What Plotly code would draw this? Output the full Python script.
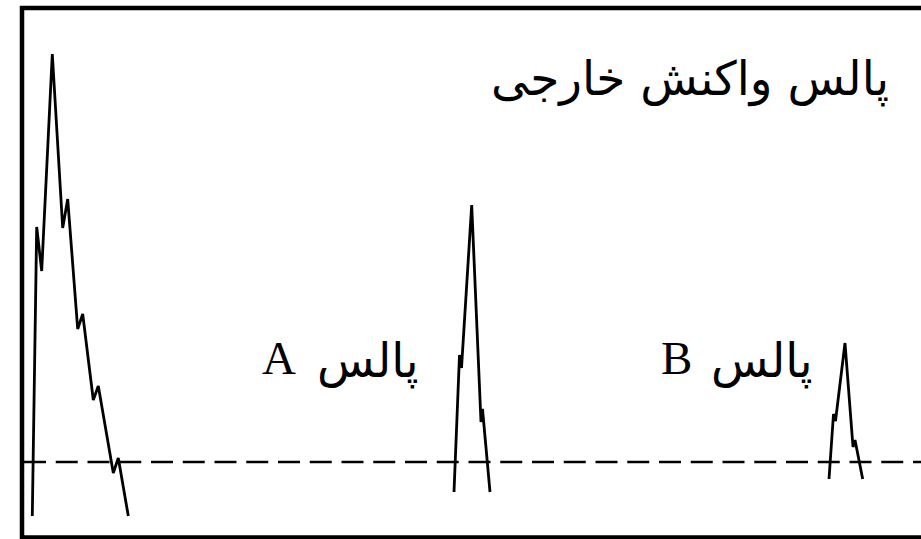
import plotly.graph_objects as go

# Echo trace: time (µs) versus amplitude (arbitrary units), baseline at 0
ext_t = [3.23, 3.67, 4.17, 5.23, 6.27, 6.77, 7.77, 8.27, 9.33, 9.83, 11.33, 11.83, 12.83]
ext_a = [-5.4, 23.5, 19.1, 40.8, 23.4, 26.3, 13.3, 14.8, 6.2, 7.6, -1.1, 0.4, -5.4]

a_t = [45.4, 45.95, 46.15, 47.17, 48.1, 48.25, 49.0]
a_a = [-3.0, 10.7, 9.4, 25.7, 4.0, 5.3, -3.0]

b_t = [82.9, 83.35, 83.55, 84.5, 85.3, 85.5, 86.27]
b_a = [-1.7, 4.8, 4.1, 11.9, 1.5, 2.2, -1.7]

base_t = [2.4, 92.1]
base_a = [0, 0]

title_text = "پالس واکنش خارجی"
pulse_word = "پالس"
label_a = "A"
label_b = "B"

SANS = "DejaVu Sans"
SERIF = "Liberation Serif"

fig = go.Figure()

fig.add_trace(go.Scatter(x=base_t, y=base_a, mode="lines",
                         line=dict(color="black", width=2.7, dash="22px,9.75px"),
                         hoverinfo="skip"))
for t, a in [(ext_t, ext_a), (a_t, a_a), (b_t, b_a)]:
    fig.add_trace(go.Scatter(x=t, y=a, mode="lines",
                             line=dict(color="black", width=2.8),
                             hoverinfo="skip"))

# Frame around the trace
fig.add_shape(type="rect", xref="x", yref="y",
              x0=2.2, x1=93.5, y0=-7.55, y1=45.4,
              line=dict(color="black", width=4.5))

annotations = [
    dict(text=title_text, x=89.1, y=38.3, xanchor="right", yanchor="middle",
         font=dict(family=SANS, size=47, color="black")),
    dict(text=label_a, x=29.8, y=10.4, xanchor="right", yanchor="middle",
         font=dict(family=SERIF, size=47, color="black")),
    dict(text=pulse_word, x=42.1, y=10.1, xanchor="right", yanchor="middle",
         font=dict(family=SANS, size=47, color="black")),
    dict(text=label_b, x=69.4, y=10.4, xanchor="right", yanchor="middle",
         font=dict(family=SERIF, size=47, color="black")),
    dict(text=pulse_word, x=81.5, y=10.1, xanchor="right", yanchor="middle",
         font=dict(family=SANS, size=47, color="black")),
]
for ann in annotations:
    fig.add_annotation(xref="x", yref="y", showarrow=False, **ann)

fig.update_xaxes(range=[0, 92.1], visible=False)
fig.update_yaxes(range=[-7.7, 46.2], visible=False)
fig.update_layout(width=921, height=539, margin=dict(l=0, r=0, t=0, b=0),
                  plot_bgcolor="white", paper_bgcolor="white",
                  showlegend=False)

fig.write_html("out.html")
